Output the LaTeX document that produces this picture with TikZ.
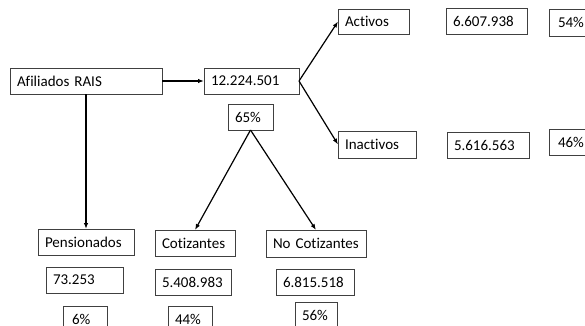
\documentclass[tikz,border=0pt]{standalone}
\usepackage{fontspec}
\setmainfont{Carlito}[Ligatures=NoCommon]
\usetikzlibrary{arrows.meta}
\begin{document}
\begin{tikzpicture}[x=1pt,y=-1pt,
  bx/.style={draw=black!75, line width=0.9pt, anchor=north west, inner xsep=7pt, inner ysep=1pt, outer sep=0pt, align=left, font=\fontsize{15}{16}\selectfont},
  arr/.style={line width=1.2pt, -{Latex[length=6pt,width=4.5pt]}}]
\useasboundingbox (0,0) rectangle (585,325);
\clip (0,0) rectangle (585,325);
\fill[white] (0,0) rectangle (585,325);
\node[bx, minimum width=152, text width=138, minimum height=26] (afil) at (10,68) {Afiliados RAIS};
\node[bx, minimum width=95, text width=81, minimum height=26] (total) at (204,68) {12.224.501};
\node[bx, minimum width=45, text width=31, minimum height=26] (p65) at (228,104) {65\%};
\node[bx, minimum width=71, text width=57, minimum height=25] (act) at (338,9) {Activos};
\node[bx, minimum width=78, text width=64, minimum height=27] (inact) at (338,131) {Inactivos};
\node[bx, minimum width=81, text width=67, minimum height=26] (actn) at (446,8) {6.607.938};
\node[bx, minimum width=45, text width=27, minimum height=27, inner xsep=9pt] (actp) at (549,9) {54\%};
\node[bx, minimum width=82, text width=68, minimum height=26] (inactn) at (447,132) {5.616.563};
\node[bx, minimum width=45, text width=27, minimum height=26, inner xsep=9pt] (inactp) at (549,129) {46\%};
\node[bx, minimum width=96, text width=82, minimum height=26] (pens) at (38,229) {Pensionados};
\node[bx, minimum width=80, text width=66, minimum height=26] (cot) at (155,230) {Cotizantes};
\node[bx, minimum width=100, text width=86, minimum height=27] (nocot) at (266,230) {No Cotizantes};
\node[bx, minimum width=77, text width=63, minimum height=26] (pensn) at (46,267) {73.253};
\node[bx, minimum width=76, text width=62, minimum height=26] (cotn) at (155,269) {5.408.983};
\node[bx, minimum width=78, text width=64, minimum height=26] (nocotn) at (276,269) {6.815.518};
\node[bx, minimum width=44, text width=26, minimum height=26, inner xsep=9pt] (pensp) at (63,306) {6\%};
\node[bx, minimum width=44, text width=30, minimum height=26] (cotp) at (168,306) {44\%};
\node[bx, minimum width=42, text width=28, minimum height=26] (nocotp) at (295,302) {56\%};
\draw[arr] (afil.east) -- (total.west);
\draw[arr] (total.east) -- (act.west);
\draw[arr] (total.east) -- (inact.west);
\draw[arr] (afil.south) -- (pens.north);
\draw[arr] (p65.south) -- (cot.north);
\draw[arr] (p65.south) -- (nocot.north);
\end{tikzpicture}
\end{document}
